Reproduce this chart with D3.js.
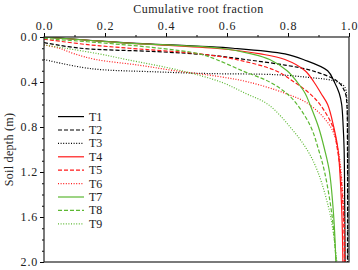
<!DOCTYPE html>
<html>
<head>
<meta charset="utf-8">
<script src="https://cdn.jsdelivr.net/npm/d3@7"></script>
<style>
  body { margin: 0; background: #fff; }
</style>
</head>
<body>
<div id="chart"></div>
<script>
// Cumulative root fraction (Y) against soil depth (m)
const seriesNames = ["T1", "T2", "T3", "T4", "T5", "T6", "T7", "T8", "T9"];

// each point: [cumulative fraction, depth]
const t1 = [[0,0],[0.26,0.05],[0.62,0.1],[0.79,0.15],[0.85,0.2],[0.93,0.3],[0.952,0.4],[0.968,0.5],[0.976,0.6],[0.981,0.8],[0.984,1.0],[0.986,1.5],[0.987,2.0]];
const t2 = [[0,0.05],[0.12,0.1],[0.37,0.13],[0.54,0.16],[0.66,0.2],[0.79,0.25],[0.88,0.3],[0.965,0.4],[0.988,0.5],[0.993,0.6],[0.995,1.0],[0.995,2.0]];
const t3 = [[0,0.2],[0.15,0.28],[0.37,0.31],[0.54,0.325],[0.76,0.335],[0.87,0.36],[0.95,0.39],[0.985,0.44],[0.993,0.55],[0.995,0.8],[0.996,2.0]];
const t4 = [[0,0],[0.25,0.05],[0.56,0.1],[0.71,0.15],[0.79,0.2],[0.856,0.3],[0.885,0.4],[0.908,0.5],[0.93,0.6],[0.95,0.8],[0.964,1.0],[0.97,1.2],[0.977,1.6],[0.98,2.0]];
const t5 = [[0,0.02],[0.03,0.03],[0.15,0.07],[0.28,0.1],[0.51,0.15],[0.63,0.2],[0.76,0.3],[0.82,0.4],[0.87,0.5],[0.905,0.6],[0.947,0.8],[0.962,1.0],[0.972,1.2],[0.982,1.6],[0.985,2.0]];
const t6 = [[0,0.07],[0.05,0.1],[0.1,0.15],[0.17,0.2],[0.31,0.25],[0.43,0.3],[0.57,0.35],[0.67,0.4],[0.79,0.5],[0.87,0.6],[0.94,0.8],[0.964,1.0],[0.974,1.2],[0.984,1.6],[0.988,2.0]];
const t7 = [[0,0],[0.25,0.05],[0.58,0.1],[0.68,0.15],[0.74,0.2],[0.797,0.3],[0.83,0.4],[0.856,0.5],[0.872,0.6],[0.9,0.8],[0.92,1.0],[0.936,1.2],[0.95,1.6],[0.957,2.0]];
const t8 = [[0,0.01],[0.035,0.02],[0.18,0.05],[0.38,0.1],[0.51,0.15],[0.565,0.2],[0.65,0.3],[0.74,0.4],[0.795,0.5],[0.83,0.6],[0.875,0.8],[0.9,1.0],[0.92,1.2],[0.945,1.6],[0.958,2.0]];
const t9 = [[0,0.07],[0.07,0.1],[0.18,0.15],[0.27,0.2],[0.45,0.3],[0.58,0.4],[0.66,0.5],[0.735,0.6],[0.807,0.8],[0.862,1.0],[0.898,1.2],[0.94,1.6],[0.96,2.0]];
const seriesData = [t1, t2, t3, t4, t5, t6, t7, t8, t9];

const xTicks = [0, 0.2, 0.4, 0.6, 0.8, 1.0];
const yTicks = [0, 0.4, 0.8, 1.2, 1.6, 2.0];

const colors = ["#000", "#000", "#000", "#ff1a1a", "#ff1a1a", "#ff1a1a", "#5cb832", "#5cb832", "#5cb832"];
const dashes = [null, "4,2", "1,1.6", null, "4,2", "1,1.6", null, "4,2", "1,1.6"];

const serif = "Liberation Serif";

const width = 358, height = 270;
const margin = { top: 37, right: 9, bottom: 8, left: 44 };

const svg = d3.select("#chart").append("svg")
    .attr("width", width)
    .attr("height", height);

const x = d3.scaleLinear().domain([0, 1]).range([margin.left, width - margin.right]);
const y = d3.scaleLinear().domain([0, 2]).range([margin.top, height - margin.bottom]);

svg.append("clipPath").attr("id", "clip")
  .append("rect")
    .attr("x", margin.left).attr("y", margin.top)
    .attr("width", x(1) - x(0)).attr("height", y(2) - y(0));

// curves
const line = d3.line()
    .x(d => x(d[0]))
    .y(d => y(d[1]))
    .curve(d3.curveCatmullRom.alpha(0.5));

svg.append("g").attr("clip-path", "url(#clip)")
  .selectAll("path")
  .data(seriesData)
  .join("path")
    .attr("d", line)
    .attr("fill", "none")
    .attr("stroke", (d, i) => colors[i])
    .attr("stroke-width", 1.2)
    .attr("stroke-dasharray", (d, i) => dashes[i]);

// top axis: minor then major
svg.append("g")
    .attr("transform", `translate(0,${margin.top})`)
    .call(d3.axisTop(x).tickValues(d3.range(0, 1.01, 0.1)).tickSize(2).tickFormat(""))
    .call(g => g.select(".domain").remove());
svg.append("g")
    .attr("transform", `translate(0,${margin.top})`)
    .attr("font-family", serif)
    .attr("font-size", 12)
    .call(d3.axisTop(x).tickValues(xTicks).tickSize(4).tickPadding(3).tickFormat(d3.format(".1f")))
    .call(g => g.select(".domain").remove())
    .call(g => g.selectAll("text").attr("fill", "#222").attr("letter-spacing", 0.8));

// left axis: minor then major
svg.append("g")
    .attr("transform", `translate(${margin.left},0)`)
    .call(d3.axisLeft(y).tickValues(d3.range(0, 2.01, 0.1)).tickSize(2).tickFormat(""))
    .call(g => g.select(".domain").remove());
svg.append("g")
    .attr("transform", `translate(${margin.left},0)`)
    .attr("font-family", serif)
    .attr("font-size", 12)
    .call(d3.axisLeft(y).tickValues(yTicks).tickSize(4).tickPadding(2).tickFormat(d3.format(".1f")))
    .call(g => g.select(".domain").remove())
    .call(g => g.selectAll("text").attr("fill", "#222").attr("letter-spacing", 0.8));

// axis font-family attr is overwritten by the axis call, so set it again
svg.selectAll(".tick text").attr("font-family", serif).attr("font-size", 12);

// frame
svg.append("rect")
    .attr("x", x(0)).attr("y", y(0))
    .attr("width", x(1) - x(0)).attr("height", y(2) - y(0))
    .attr("fill", "none").attr("stroke", "#222").attr("stroke-width", 1.2);

// axis titles
svg.append("text")
    .attr("x", (x(0) + x(1)) / 2 + 2)
    .attr("y", 13)
    .attr("text-anchor", "middle")
    .attr("font-family", serif)
    .attr("font-size", 12)
    .attr("letter-spacing", 0.5)
    .attr("fill", "#222")
    .text("Cumulative root fraction");

svg.append("text")
    .attr("transform", `translate(13,${(y(0) + y(2)) / 2}) rotate(-90)`)
    .attr("text-anchor", "middle")
    .attr("font-family", serif)
    .attr("font-size", 12)
    .attr("letter-spacing", 0.3)
    .attr("fill", "#222")
    .text("Soil depth (m)");

// legend
const legend = svg.append("g");
seriesNames.forEach((name, i) => {
    const ly = 116.6 + i * 13.4;
    legend.append("line")
        .attr("x1", 58).attr("x2", 84)
        .attr("y1", ly).attr("y2", ly)
        .attr("stroke", colors[i])
        .attr("stroke-width", 1.2)
        .attr("stroke-dasharray", dashes[i]);
    legend.append("text")
        .attr("x", 89).attr("y", ly + 4)
        .attr("font-family", serif)
        .attr("font-size", 12)
        .attr("fill", "#222")
        .text(name);
});
</script>
</body>
</html>
